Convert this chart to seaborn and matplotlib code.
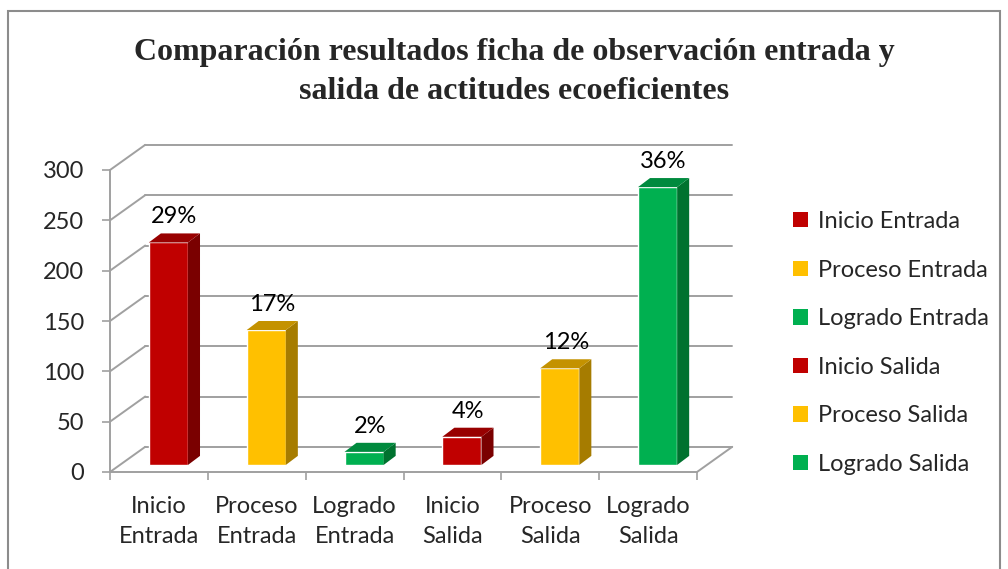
import matplotlib
matplotlib.use("Agg")
import matplotlib.pyplot as plt
from matplotlib.patches import Patch, Polygon, Rectangle
import seaborn as sns

# Datos
categorias = ["Inicio Entrada", "Proceso Entrada", "Logrado Entrada",
              "Inicio Salida", "Proceso Salida", "Logrado Salida"]
etiquetas_x = ["Inicio\nEntrada", "Proceso\nEntrada", "Logrado\nEntrada",
               "Inicio\nSalida", "Proceso\nSalida", "Logrado\nSalida"]
valores = [221, 134, 13, 28, 96, 276]
porcentajes = ["29%", "17%", "2%", "4%", "12%", "36%"]

color_frente = ["#C00000", "#FFC000", "#00B050", "#C00000", "#FFC000", "#00B050"]
color_lado = ["#7A0000", "#A67C00", "#00722F", "#7A0000", "#A67C00", "#00722F"]
color_tapa = ["#980000", "#C49200", "#008A3E", "#980000", "#C49200", "#008A3E"]

titulo = "Comparación resultados ficha de observación entrada y\nsalida de actitudes ecoeficientes"

sns.set_theme(style="white")
plt.rcParams["font.family"] = ["Lato", "DejaVu Sans"]

W, H = 1008, 569
fig = plt.figure(figsize=(W / 100, H / 100), dpi=100)
ax = fig.add_axes([110 / W, (H - 472) / H, (735 - 110) / W, (472 - 147) / H])

# pseudo 3D: desplazamiento de la pared del fondo y de las barras
DX, DY = 0.36, 25          # pared del fondo
BX, BY = 0.097, 7          # cara frontal de la barra
PX, PY = 0.123, 9          # profundidad de la barra
gris = "#A0A0A0"
fs = 17

sns.barplot(x=categorias, y=valores, hue=categorias, palette=color_frente,
            legend=False, width=0.4, saturation=1, ax=ax, zorder=3)

# paredes: lineas de cuadricula en el fondo y diagonales a la izquierda
for v in range(0, 301, 50):
    ax.plot([-0.5 + DX, 5.5 + DX], [v + DY, v + DY], color=gris, lw=1.4,
            clip_on=False, zorder=1)
    ax.plot([-0.5, -0.5 + DX], [v, v + DY], color=gris, lw=1.4,
            clip_on=False, zorder=1)
ax.plot([5.5, 5.5 + DX], [0, DY], color=gris, lw=1.4, clip_on=False, zorder=1)

for i, p in enumerate(ax.patches):
    p.set_x(p.get_x() + BX)
    p.set_y(BY)
    x0 = p.get_x()
    x1 = x0 + p.get_width()
    top = BY + p.get_height()
    ax.add_patch(Polygon([(x1, BY), (x1 + PX, BY + PY), (x1 + PX, top + PY), (x1, top)],
                         closed=True, facecolor=color_lado[i], edgecolor="none",
                         zorder=3, clip_on=False))
    ax.add_patch(Polygon([(x0, top), (x1, top), (x1 + PX, top + PY), (x0 + PX, top + PY)],
                         closed=True, facecolor=color_tapa[i], edgecolor="none",
                         zorder=3, clip_on=False))
    ax.text((x0 + x1 + PX) / 2, top + PY + 6, porcentajes[i], ha="center",
            va="bottom", fontsize=fs, color="black", zorder=4)

ax.set_xlim(-0.5, -0.5 + 6 * 625 / 587)
ax.set_ylim(0, 325 / (302 / 300))

for s in ["top", "right"]:
    ax.spines[s].set_visible(False)
ax.spines["left"].set_bounds(0, 300)
ax.spines["bottom"].set_bounds(-0.5, 5.5)
for s in ["left", "bottom"]:
    ax.spines[s].set_color(gris)
    ax.spines[s].set_linewidth(1.4)

ax.set_yticks(range(0, 301, 50))
ax.set_yticklabels([str(v) for v in range(0, 301, 50)], fontsize=fs)
ax.tick_params(axis="y", direction="out", length=5.5, width=1.2, color=gris,
               pad=13, left=True)

ax.set_xticks([i - 0.5 for i in range(7)])
ax.set_xticklabels([])
ax.set_xticks(range(6), minor=True)
ax.set_xticklabels(etiquetas_x, minor=True, fontsize=fs, linespacing=1.58)
ax.tick_params(axis="x", which="major", direction="out", length=5.5, width=1.2,
               color=gris, bottom=True)
ax.tick_params(axis="x", which="minor", length=0, pad=17)
ax.set_xlabel("")
ax.set_ylabel("")
ax.set_facecolor("none")

handles = [Patch(facecolor=c, edgecolor="none") for c in color_frente]
fig.legend(handles, categorias, loc="center left",
           bbox_to_anchor=(784 / W, 1 - 343 / H), frameon=False, fontsize=fs,
           handlelength=0.62, handleheight=0.62, handletextpad=0.4,
           labelspacing=1.17, borderaxespad=0)

fig.text(514 / W, 1 - 72 / H, titulo, ha="center", va="center",
         fontsize=23, fontweight="bold", family="Liberation Serif",
         linespacing=1.42)

fig.add_artist(Rectangle((8 / W, -0.1), 992 / W, 1.1 - 11 / H,
                         transform=fig.transFigure, fill=False,
                         edgecolor="#8C8C8C", lw=1.5))

fig.savefig("out.png", dpi=100)
